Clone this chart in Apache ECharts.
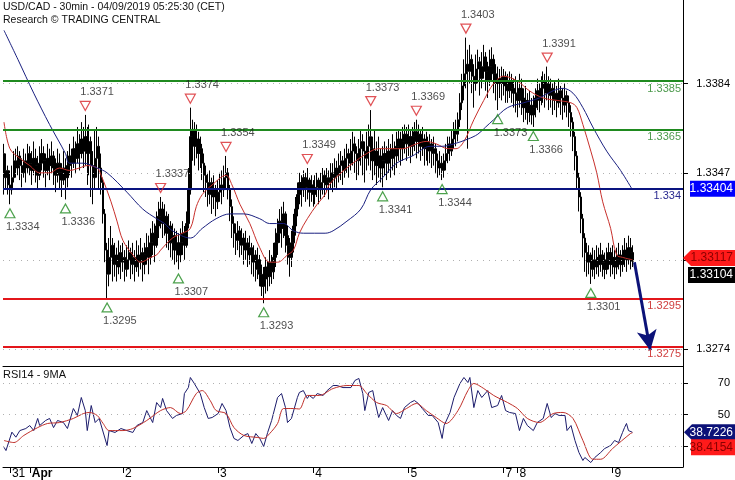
<!DOCTYPE html>
<html><head><meta charset="utf-8">
<script src="https://cdn.jsdelivr.net/npm/echarts@6/dist/echarts.min.js"></script>
<style>html,body{margin:0;padding:0;background:#fff}#c{width:735px;height:480px}</style>
</head><body><div id="c"></div>
<script>
// ---------- data ----------
const firstOpen = 1.3355;
const closes = [1.3345,1.3348,1.3342,1.3340,1.3345,1.3352,1.3349,1.3354,1.3350,1.3347,1.3352,1.3349,1.3355,1.3351,
1.3348,1.3353,1.3350,1.3346,1.3351,1.3355,1.3352,1.3348,1.3353,1.3350,1.3354,1.3349,1.3346,1.3351,1.3347,1.3344,1.3349,1.3345,
1.3350,1.3354,1.3351,1.3357,1.3353,1.3359,1.3355,1.3361,1.3356,1.3362,
1.3355,1.3360,1.3350,1.3345,1.3353,1.3358,1.3349,1.3343,1.3330,1.3315,1.3305,1.3312,
1.3317,1.3309,1.3313,1.3308,1.3314,1.3310,1.3312,1.3307,1.3311,1.3314,1.3309,1.3312,1.3308,1.3313,1.3310,1.3314,1.3309,1.3313,1.3316,
1.3312,1.3318,1.3322,1.3317,1.3325,1.3329,1.3332,1.3326,1.3329,1.3322,1.3325,1.3318,1.3321,1.3315,1.3318,1.3313,
1.3318,1.3322,1.3317,1.3326,1.3340,1.3362,1.3365,1.3358,1.3361,1.3355,1.3357,1.3351,
1.3346,1.3343,1.3338,1.3343,1.3337,1.3340,1.3335,1.3339,1.3342,1.3340,1.3345,1.3347,
1.3340,1.3333,1.3326,1.3322,1.3319,1.3323,1.3317,1.3320,1.3315,1.3318,1.3313,1.3316,1.3310,1.3313,1.3307,1.3311,1.3305,1.3300,1.3303,
1.3308,1.3304,1.3310,1.3306,1.3312,1.3318,1.3322,1.3327,1.3324,1.3330,1.3321,1.3317,1.3312,1.3318,1.3325,1.3332,1.3338,1.3343,1.3340,1.3345,1.3341,1.3344,
1.3339,1.3342,1.3338,1.3341,1.3344,1.3340,1.3343,1.3346,1.3342,1.3345,1.3343,1.3347,
1.3345,1.3349,1.3346,1.3350,1.3352,1.3348,1.3353,1.3355,1.3351,1.3356,1.3359,1.3355,1.3352,1.3357,1.3360,1.3356,1.3353,1.3358,1.3362,1.3357,1.3352,1.3356,1.3350,1.3354,1.3349,1.3352,
1.3355,1.3351,1.3356,1.3353,1.3357,1.3354,1.3358,1.3361,1.3357,1.3360,1.3363,1.3359,1.3362,1.3358,1.3362,1.3364,1.3360,1.3363,1.3358,1.3361,1.3357,1.3360,1.3356,1.3359,1.3355,1.3357,1.3352,1.3349,1.3351,1.3348,
1.3352,1.3355,1.3359,1.3356,1.3361,1.3365,1.3363,1.3369,1.3376,1.3383,1.3388,1.3392,1.3389,1.3394,1.3387,1.3384,1.3390,1.3393,1.3386,1.3391,1.3395,1.3389,1.3385,1.3391,1.3394,1.3388,1.3384,1.3386,
1.3386,1.3384,1.3387,1.3383,1.3381,1.3385,1.3382,1.3380,
1.3380,1.3377,1.3382,1.3378,1.3374,1.3377,1.3372,1.3375,1.3371,1.3374,1.3378,1.3381,1.3377,1.3382,1.3385,1.3380,1.3384,
1.3379,1.3382,1.3377,1.3380,1.3376,1.3381,1.3378,1.3375,1.3379,1.3376,1.3372,1.3368,1.3362,1.3354,1.3345,1.3337,1.3328,1.3320,
1.3314,1.3310,1.3313,1.3307,1.3311,1.3308,1.3312,1.3309,1.3313,1.3310,1.3307,1.3311,1.3314,1.3309,1.3312,1.3308,1.3311,1.3313,1.3309,1.3312,1.3315,1.3311,1.3316,1.3314,1.33104];
const highs = [1.3359,1.3355,1.3350,1.3348,1.3350,1.3356,1.3357,1.3358,1.3356,1.3353,1.3357,1.3355,1.3359,1.3358,
1.3356,1.3360,1.3357,1.3354,1.3358,1.3361,1.3358,1.3355,1.3359,1.3357,1.3360,1.3356,1.3353,1.3357,1.3355,1.3351,1.3356,1.3353,
1.3356,1.3359,1.3357,1.3362,1.3360,1.3366,1.3363,1.3368,1.3366,1.3371,
1.3366,1.3367,1.3362,1.3356,1.3365,1.3366,1.3362,1.3355,1.3345,1.3332,1.3318,1.3320,
1.3325,1.3320,1.3318,1.3316,1.3319,1.3317,1.3318,1.3315,1.3317,1.3319,1.3316,1.3318,1.3315,1.3319,1.3317,1.3320,1.3316,1.3318,1.3322,
1.3321,1.3324,1.3327,1.3326,1.3331,1.3335,1.3337,1.3335,1.3334,1.3331,1.3330,1.3327,1.3326,1.3324,1.3323,1.3322,
1.3324,1.3327,1.3325,1.3331,1.3349,1.3374,1.3369,1.3368,1.3367,1.3364,1.3362,1.3359,
1.3355,1.3350,1.3347,1.3348,1.3345,1.3346,1.3342,1.3344,1.3347,1.3348,1.3350,1.3354,
1.3349,1.3342,1.3336,1.3329,1.3326,1.3327,1.3325,1.3324,1.3322,1.3323,1.3320,1.3321,1.3318,1.3317,1.3315,1.3316,1.3313,1.3309,1.3308,
1.3312,1.3311,1.3315,1.3313,1.3318,1.3324,1.3328,1.3332,1.3333,1.3335,1.3331,1.3325,1.3320,1.3323,1.3330,1.3337,1.3343,1.3347,1.3346,1.3348,1.3347,1.3349,
1.3345,1.3346,1.3344,1.3346,1.3347,1.3345,1.3347,1.3349,1.3348,1.3349,1.3348,1.3351,
1.3351,1.3353,1.3352,1.3355,1.3356,1.3354,1.3357,1.3359,1.3357,1.3361,1.3364,1.3362,1.3358,1.3361,1.3365,1.3363,1.3360,1.3364,1.3367,1.3373,1.3362,1.3365,1.3360,1.3362,1.3357,1.3358,
1.3360,1.3358,1.3361,1.3359,1.3363,1.3360,1.3364,1.3365,1.3364,1.3366,1.3367,1.3366,1.3367,1.3365,1.3366,1.3368,1.3369,1.3367,1.3365,1.3366,1.3363,1.3364,1.3362,1.3363,1.3361,1.3362,1.3359,1.3355,1.3356,1.3354,
1.3355,1.3359,1.3362,1.3362,1.3365,1.3368,1.3369,1.3372,1.3380,1.3388,1.3394,1.3403,1.3398,1.3400,1.3396,1.3392,1.3396,1.3398,1.3395,1.3397,1.3400,1.3397,1.3393,1.3398,1.3399,1.3396,1.3392,1.3391,
1.3390,1.3391,1.3390,1.3389,1.3388,1.3389,1.3388,1.3386,
1.3387,1.3385,1.3388,1.3386,1.3382,1.3383,1.3380,1.3381,1.3378,1.3379,1.3382,1.3386,1.3384,1.3387,1.3389,1.3388,1.3391,
1.3387,1.3386,1.3384,1.3385,1.3383,1.3386,1.3383,1.3382,1.3384,1.3381,1.3379,1.3375,1.3370,1.3364,1.3356,1.3347,1.3339,1.3330,
1.3322,1.3318,1.3317,1.3314,1.3316,1.3315,1.3317,1.3316,1.3318,1.3315,1.3314,1.3316,1.3318,1.3316,1.3317,1.3315,1.3316,1.3318,1.3315,1.3317,1.3320,1.3318,1.3321,1.3320,1.3317];
const lows = [1.3338,1.3340,1.3338,1.3334,1.3338,1.3343,1.3345,1.3346,1.3344,1.3341,1.3345,1.3343,1.3347,1.3346,
1.3342,1.3346,1.3343,1.3340,1.3344,1.3348,1.3345,1.3341,1.3346,1.3344,1.3347,1.3342,1.3339,1.3343,1.3340,1.3337,1.3342,1.3336,
1.3341,1.3346,1.3345,1.3349,1.3347,1.3351,1.3348,1.3353,1.3349,1.3350,
1.3342,1.3346,1.3337,1.3334,1.3340,1.3345,1.3340,1.3338,1.3326,1.3310,1.3295,1.3300,
1.3305,1.3302,1.3304,1.3302,1.3305,1.3303,1.3306,1.3302,1.3304,1.3307,1.3303,1.3305,1.3302,1.3306,1.3304,1.3307,1.3302,1.3305,1.3309,
1.3305,1.3309,1.3313,1.3310,1.3316,1.3320,1.3324,1.3320,1.3321,1.3316,1.3315,1.3312,1.3311,1.3309,1.3310,1.3307,
1.3310,1.3313,1.3311,1.3316,1.3324,1.3338,1.3352,1.3350,1.3353,1.3348,1.3349,1.3344,
1.3339,1.3337,1.3333,1.3334,1.3330,1.3332,1.3329,1.3332,1.3335,1.3334,1.3337,1.3340,
1.3336,1.3327,1.3320,1.3316,1.3313,1.3315,1.3312,1.3313,1.3309,1.3311,1.3308,1.3309,1.3305,1.3304,1.3302,1.3303,1.3300,1.3296,1.3293,
1.3297,1.3298,1.3300,1.3301,1.3303,1.3308,1.3313,1.3318,1.3316,1.3320,1.3314,1.3309,1.3304,1.3308,1.3314,1.3321,1.3329,1.3334,1.3333,1.3337,1.3335,1.3336,
1.3333,1.3335,1.3333,1.3334,1.3337,1.3334,1.3336,1.3338,1.3337,1.3339,1.3336,1.3340,
1.3339,1.3341,1.3340,1.3343,1.3344,1.3342,1.3345,1.3347,1.3345,1.3348,1.3350,1.3347,1.3344,1.3346,1.3350,1.3346,1.3343,1.3348,1.3350,1.3348,1.3344,1.3346,1.3342,1.3345,1.3343,1.3341,
1.3346,1.3344,1.3347,1.3345,1.3348,1.3346,1.3349,1.3352,1.3350,1.3352,1.3355,1.3352,1.3354,1.3351,1.3354,1.3356,1.3353,1.3355,1.3352,1.3354,1.3350,1.3352,1.3350,1.3351,1.3349,1.3350,1.3347,1.3345,1.3346,1.3344,
1.3345,1.3348,1.3351,1.3352,1.3354,1.3357,1.3358,1.3360,1.3366,1.3373,1.3377,1.3382,1.3357,1.3384,1.3380,1.3374,1.3381,1.3384,1.3379,1.3382,1.3386,1.3381,1.3378,1.3383,1.3385,1.3380,1.3377,1.3373,
1.3378,1.3377,1.3379,1.3376,1.3376,1.3378,1.3376,1.3374,
1.3372,1.3370,1.3374,1.3371,1.3368,1.3369,1.3367,1.3368,1.3367,1.3366,1.3370,1.3373,1.3372,1.3375,1.3376,1.3374,1.3377,
1.3373,1.3374,1.3371,1.3373,1.3370,1.3374,1.3371,1.3369,1.3372,1.3370,1.3366,1.3362,1.3356,1.3348,1.3340,1.3331,1.3322,1.3312,
1.3306,1.3304,1.3305,1.3301,1.3304,1.3303,1.3305,1.3304,1.3306,1.3304,1.3303,1.3305,1.3307,1.3304,1.3305,1.3303,1.3305,1.3307,1.3304,1.3306,1.3308,1.3306,1.3309,1.3307,1.3308];

const redMaIdx = [0,3,8,13,18,23,28,33,38,42,47,49,54,57,60,65,69,74,77,79,85,90,94,97,100,105,112,115,119,124,129,134,138,143,146,149,153,158,162,164,170,176,183,189,196,201,208,213,218,224,228,232,237,242,247,252,259,265,272,279,286,289,292,296,299,302,306,309,312,317];
const redMaVal = [1.3368,1.3357,1.3353,1.3350,1.3347,1.3347,1.3349,1.3348,1.3349,1.3350,1.3349,1.3346,1.3335,1.3327,1.3319,1.3313,1.3310,1.3312,1.3313,1.3315,1.3320,1.3322,1.3324,1.3333,1.3338,1.3342,1.3346,1.3342,1.3334,1.3326,1.3316,1.3310,1.3310,1.3313,1.3315,1.3322,1.3328,1.3334,1.3338,1.3342,1.3347,1.3351,1.3355,1.3357,1.3357,1.3357,1.3359,1.3360,1.3359,1.3357,1.3357,1.3360,1.3369,1.3377,1.3384,1.3387,1.3385,1.3381,1.3378,1.3377,1.3376,1.3374,1.3367,1.3356,1.3347,1.3335,1.3324,1.3313,1.3312,1.3311];
const blueMaIdx = [0,7,15,23,31,33,40,47,52,62,70,77,81,85,94,100,107,114,121,129,134,141,146,151,162,166,173,180,185,191,198,206,215,221,227,234,239,243,247,254,262,270,277,282,287,292,297,304,311,317];
const blueMaVal = [1.3406,1.3394,1.3380,1.3367,1.3355,1.3351,1.3351,1.3349,1.3347,1.3339,1.3332,1.3328,1.3326,1.3323,1.3320,1.3324,1.3328,1.3330,1.3330,1.3328,1.3326,1.3326,1.3323,1.3322,1.3322,1.3323,1.3327,1.3332,1.3340,1.3345,1.3351,1.3354,1.3358,1.3358,1.3359,1.3361,1.3363,1.3366,1.3369,1.3374,1.3376,1.3378,1.3381,1.3382,1.3380,1.3374,1.3366,1.3356,1.3348,1.3340];

const rsiIdx = [0,1,4,6,8,11,13,15,17,18,21,23,25,27,30,32,35,37,39,41,42,44,46,48,52,53,56,59,62,65,67,70,72,75,77,79,80,82,85,87,90,91,93,94,96,99,101,103,105,108,110,112,114,116,118,121,123,125,127,129,131,133,135,138,140,142,143,145,148,149,151,153,154,156,158,161,163,166,168,171,175,177,179,181,182,184,186,187,189,191,194,196,198,200,202,205,207,209,211,214,216,219,221,222,225,227,230,232,234,235,237,239,241,244,246,249,251,253,255,258,260,262,264,267,269,272,274,276,278,280,283,284,286,288,290,292,293,296,298,301,303,306,308,310,312,313,314,315,316,317];
const rsiVal = [29.2,27.1,38.8,35.6,39.8,41.1,43.0,39.8,47.5,43.0,46.2,47.5,41.7,46.2,44.9,41.1,53.8,49.4,60.8,52.5,39.8,55.7,44.9,47.5,30.3,39.8,38.6,41.1,39.8,38.6,43.0,44.9,52.5,44.9,57.6,54.4,60.2,52.5,47.5,49.4,50.6,63.3,67.1,73.5,69.7,63.3,54.4,47.5,48.1,50.6,57.0,52.5,41.7,34.8,33.5,36.7,37.9,31.6,37.9,34.8,29.7,38.6,46.2,60.8,63.3,54.4,44.9,47.5,60.8,64.0,65.2,60.2,62.1,60.2,63.3,62.1,65.2,68.4,68.4,67.1,67.1,71.6,72.9,63.3,52.5,64.0,65.2,58.9,48.1,54.4,46.2,52.5,49.4,47.5,54.4,57.6,58.9,57.0,53.8,49.4,49.4,44.9,34.8,43.0,51.3,60.8,69.7,73.5,70.3,73.5,54.4,65.2,60.8,65.2,54.4,55.7,62.1,52.5,51.3,50.6,39.8,47.5,43.0,39.8,44.9,47.5,57.0,48.1,50.6,49.4,49.4,39.8,43.0,33.5,25.9,20.8,22.7,19.5,22.7,25.9,28.4,30.3,33.5,32.2,38.6,41.7,44.3,39.8,39.5,38.7226];
const rsiMaIdx = [0,5,10,17,22,28,35,40,43,47,50,53,60,65,72,79,84,89,92,97,100,104,107,112,116,121,128,131,134,138,141,146,149,153,159,166,173,179,183,188,193,198,203,208,213,218,223,229,234,237,242,247,254,259,264,270,277,282,287,292,297,301,307,316,317];
const rsiMaVal = [33.5,32.2,36.7,41.7,44.3,44.9,47.5,50.6,51.3,49.4,44.3,39.8,39.8,41.1,46.2,52.5,54.4,50.6,52.5,63.3,65.2,58.9,52.5,50.6,41.7,36.7,35.4,34.8,37.9,44.3,53.8,53.8,53.5,62.1,62.1,66.5,68.4,68.4,63.3,57.6,55.7,50.6,53.8,57.0,52.5,48.1,44.3,52.5,65.2,69.7,66.5,62.1,57.6,53.8,47.5,44.9,50.6,51.3,47.5,33.5,21.6,21.6,28.4,37.9,38.4154];

const highMarkIdx = [41,79,94,112,153,185,208,233,274];
const highMarkVal = [1.3371,1.3337,1.3374,1.3354,1.3349,1.3373,1.3369,1.3403,1.3391];
const lowMarkIdx = [3,31,52,88,131,191,221,249,267,296];
const lowMarkVal = [1.3334,1.3336,1.3295,1.3307,1.3293,1.3341,1.3344,1.3373,1.3366,1.3301];
const pendingIdx = [315];
const pendingVal = [1.3321];

const levels = [1.3385,1.3365,1.33404,1.3295,1.3275];
const levelLabels = ['1.3385','1.3365','1.334','1.3295','1.3275'];
const priceTicks = [1.3384,1.3347,1.3311,1.3274];
const rsiTicks = [30,50,70];
const dayIdx = [3,13,60,108,156,204,252,259,307];
const dayLabels = ['31','Apr','2','3','4','5','7','8','9'];
const arrowFrom = [318,1.3310];
const arrowTo = [326,1.32735];
const pivotTag = 1.33404, askTag = 1.33117, bidTag = 1.33104;
const rsiTag = 38.7226, rsiMaTag = 38.4154;
const N = 343;

// ---------- build ----------
const FONT = "'Liberation Sans', Arial, sans-serif";
const cats = []; for (let i = 0; i < N; i++) cats.push(i);
const opens = closes.map((c, i) => i === 0 ? firstOpen : closes[i - 1]);
const candleData = closes.map((c, i) => [opens[i], c, Math.min(lows[i], opens[i], c), Math.max(highs[i], opens[i], c)]);
const pair = (ix, vs) => ix.map((x, k) => [x, vs[k]]);
const levelColors = ['#1f8a1f','#1f8a1f','#0a1480','#e3161b','#e3161b'];
const levelTextColors = ['#4d9a4d','#4d9a4d','#2a2a90','#d04040','#d04040'];

const chart = echarts.init(document.getElementById('c'), null, {renderer:'canvas'});
const option = {
  animation:false,
  backgroundColor:'#fff',
  grid:[{left:3,right:52,top:0,height:366},{left:3,right:52,top:366,height:101}],
  xAxis:[
    {type:'category',gridIndex:0,data:cats,boundaryGap:true,
     axisLine:{show:true,onZero:false,lineStyle:{color:'#000',width:1}},axisTick:{show:false},axisLabel:{show:false},splitLine:{show:false}},
    {type:'category',gridIndex:1,data:cats,boundaryGap:true,
     axisLine:{show:true,onZero:false,lineStyle:{color:'#000',width:1}},
     axisTick:{show:true,alignWithLabel:true,interval:(i)=>dayIdx.includes(i),length:6,lineStyle:{color:'#000'}},
     axisLabel:{show:true,interval:(i)=>dayIdx.includes(i),
       formatter:(v)=>{const k=dayIdx.indexOf(Number(v)); const t=k>=0?dayLabels[k]:''; return t==='Apr'?'{b|Apr}':t;},
       align:'left',verticalAlign:'top',margin:1,padding:[0,0,0,2],color:'#000',fontSize:12,fontFamily:FONT,
       rich:{b:{fontWeight:'bold',fontSize:12,color:'#000',fontFamily:FONT}}},
     splitLine:{show:false}}
  ],
  yAxis:[
    {type:'value',gridIndex:0,position:'right',min:1.326701,max:1.341858,
     axisLine:{show:true,lineStyle:{color:'#000'}},
     axisTick:{show:true,customValues:priceTicks,length:5,lineStyle:{color:'#000'}},
     axisLabel:{show:true,customValues:priceTicks,formatter:(v)=>Number(v).toFixed(4),align:'right',margin:47,color:'#000',fontSize:11,fontFamily:FONT},
     splitLine:{show:false}},
    {type:'value',gridIndex:1,position:'right',min:16.67,max:80.8,
     axisLine:{show:true,lineStyle:{color:'#000'}},
     axisTick:{show:true,customValues:rsiTicks,length:5,lineStyle:{color:'#000'}},
     axisLabel:{show:true,customValues:rsiTicks,formatter:(v)=>String(v),align:'right',margin:47,color:'#000',fontSize:11,fontFamily:FONT},
     splitLine:{show:false}}
  ],
  series:[
    {type:'candlestick',name:'USDCAD',xAxisIndex:0,yAxisIndex:0,data:candleData,barWidth:2,z:2,
     itemStyle:{color:'#000',color0:'#000',borderColor:'#000',borderColor0:'#000',borderWidth:1},
     markLine:{silent:true,precision:6,symbol:['none','none'],label:{show:false},
       lineStyle:{color:'#b0b0b0',type:[1,5],width:1},
       data:priceTicks.map(v=>({yAxis:v}))}},
    {type:'line',name:'MA red',xAxisIndex:0,yAxisIndex:0,data:pair(redMaIdx,redMaVal),smooth:0.35,showSymbol:false,symbol:'none',z:3,
     lineStyle:{color:'#c8302c',width:1}},
    {type:'line',name:'MA blue',xAxisIndex:0,yAxisIndex:0,data:pair(blueMaIdx,blueMaVal),smooth:0.35,showSymbol:false,symbol:'none',z:3,
     lineStyle:{color:'#1a2080',width:1},
     markLine:{silent:true,precision:6,symbol:['none','none'],
       data:levels.map((v,k)=>({yAxis:v,lineStyle:{color:levelColors[k],width:2,type:'solid'},
         label:{show:true,position:'insideEndBottom',distance:2,formatter:levelLabels[k],color:levelTextColors[k],fontSize:11,fontFamily:FONT}}))}},
    {type:'scatter',name:'highs',xAxisIndex:0,yAxisIndex:0,data:pair(highMarkIdx,highMarkVal),z:5,
     symbol:'path://M0,0L10,0L5,9Z',symbolSize:[10,9],symbolOffset:[0,-9],
     itemStyle:{color:'rgba(255,255,255,0)',borderColor:'#d8262a',borderWidth:1.2},
     label:{show:true,position:'top',distance:3,align:'left',offset:[-5,0],formatter:(p)=>p.value[1].toFixed(4),color:'#222',fontSize:11,fontFamily:FONT}},
    {type:'scatter',name:'lows',xAxisIndex:0,yAxisIndex:0,data:pair(lowMarkIdx,lowMarkVal),z:5,
     symbol:'path://M5,0L10,9L0,9Z',symbolSize:[10,9],symbolOffset:[0,9],
     itemStyle:{color:'rgba(255,255,255,0)',borderColor:'#1f8a1f',borderWidth:1.2},
     label:{show:true,position:'bottom',distance:3,align:'left',offset:[-4,0],formatter:(p)=>p.value[1].toFixed(4),color:'#222',fontSize:11,fontFamily:FONT}},
    {type:'scatter',name:'pending',xAxisIndex:0,yAxisIndex:0,data:pair(pendingIdx,pendingVal),z:5,
     symbol:'rect',symbolSize:[10,9],symbolOffset:[0,-9],itemStyle:{opacity:0},
     label:{show:true,position:'top',distance:3,align:'left',offset:[-5,0],formatter:(p)=>p.value[1].toFixed(4),color:'#222',fontSize:11,fontFamily:FONT}},
    {type:'line',name:'arrow',xAxisIndex:0,yAxisIndex:0,data:[arrowFrom,arrowTo],showSymbol:false,symbol:'none',z:6,
     lineStyle:{opacity:0},
     markLine:{silent:true,precision:6,symbol:['none','arrow'],symbolSize:[15,20],label:{show:false},
       lineStyle:{color:'#0c1278',width:3,type:'solid'},
       data:[[{coord:arrowFrom},{coord:arrowTo}]]}},
    {type:'line',name:'RSI14',xAxisIndex:1,yAxisIndex:1,data:pair(rsiIdx,rsiVal),showSymbol:false,symbol:'none',z:3,
     lineStyle:{color:'#1c1c6c',width:1},
     markLine:{silent:true,precision:6,symbol:['none','none'],label:{show:false},
       lineStyle:{color:'#b0b0b0',type:[1,5],width:1},
       data:rsiTicks.map(v=>({yAxis:v}))}},
    {type:'line',name:'9MA',xAxisIndex:1,yAxisIndex:1,data:pair(rsiMaIdx,rsiMaVal),smooth:0.3,showSymbol:false,symbol:'none',z:3,
     lineStyle:{color:'#c0302a',width:1}}
  ]
};
chart.setOption(option);

// ---------- annotation tags ----------
function tag(yc, text, fill, textColor, left, pointer) {
  const h = 16, right = 735;
  const pts = pointer
    ? [[left,yc],[left+8,yc-h/2],[right,yc-h/2],[right,yc+h/2],[left+8,yc+h/2]]
    : [[left,yc-h/2],[right,yc-h/2],[right,yc+h/2],[left,yc+h/2]];
  return [
    {type:'polygon',shape:{points:pts},style:{fill:fill},z:100},
    {type:'text',x:right-2,y:yc,style:{text:text,fill:textColor,font:'12px '+FONT,align:'right',verticalAlign:'middle'},z:101}
  ];
}
const yP = (v) => chart.convertToPixel({yAxisIndex:0}, v);
const yR = (v) => chart.convertToPixel({yAxisIndex:1}, v);
const askY = yP(askTag);
const rsiY = yR(rsiTag);
const g = [].concat(
  tag(yP(pivotTag), pivotTag.toFixed(5), '#0000ff', '#ffffff', 690, false),
  tag(askY, askTag.toFixed(5), '#ff1a1a', '#8a0000', 683, true),
  tag(askY + 17, bidTag.toFixed(5), '#000000', '#ffffff', 688, false),
  tag(rsiY, rsiTag.toFixed(4), '#0c1278', '#ffffff', 684, true),
  tag(rsiY + 15, rsiMaTag.toFixed(4), '#ff1a1a', '#8a0000', 691, false),
  [
    {type:'text',left:3,top:2,style:{text:'USD/CAD - 30min - 04/09/2019 05:25:30 (CET)',font:'10.5px '+FONT,fill:'#111'},z:50},
    {type:'text',left:3,top:15,style:{text:'Research © TRADING CENTRAL',font:'10.5px '+FONT,fill:'#111'},z:50},
    {type:'text',left:3,top:369,style:{text:'RSI14 - 9MA',font:'11px '+FONT,fill:'#111'},z:50}
  ]
);
chart.setOption({graphic:g});
</script>
</body></html>
